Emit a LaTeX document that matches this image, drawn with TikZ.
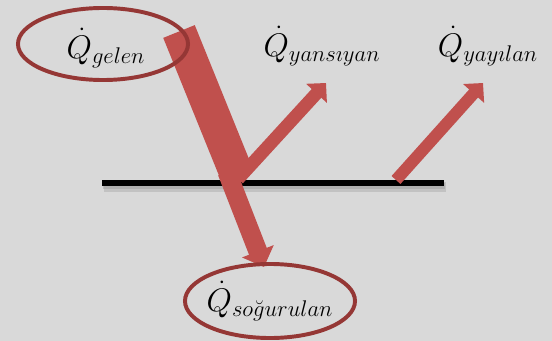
\documentclass[tikz,border=0pt]{standalone}
\usepackage{amsmath}
\usepackage{graphicx}
\usepackage{tikz}
\usepackage{xcolor}
\usetikzlibrary{arrows.meta, positioning, calc}
\definecolor{beamred}{HTML}{C0504D}
\definecolor{ringred}{HTML}{953735}
\definecolor{bggray}{HTML}{D9D9D9}
\newcommand{\qlabel}[1]{\scalebox{1.12}{$\dot{Q}_{#1}$}}

\begin{document}
\begin{tikzpicture}[
    x=0.025cm, y=-0.025cm,
    beam/.style={draw=beamred, line cap=butt},
    ring/.style={draw=ringred, line width=2.8pt},
    lbl/.style={inner sep=0pt, font=\huge}
]
    % Background and picture size
    \fill[bggray] (0,0) rectangle (552,341);
    \useasboundingbox (0,0) rectangle (552,341);

    % Surface with its shadow
    \coordinate (sL) at (102,183);
    \coordinate (sR) at (444,183);
    \draw[black!40, opacity=0.35, line width=7pt] ($(sL)+(2,4)$) -- ($(sR)+(2,4)$);
    \draw[black!40, opacity=0.45, line width=4pt] ($(sL)+(1,3)$) -- ($(sR)+(1,3)$);
    \draw[black, line width=4pt] (sL) -- (sR);

    % Beams
    \coordinate (inTop) at (179,31.5);
    \coordinate (inEnd) at (237.8,176.7);
    \coordinate (abStart) at (227,172);
    \coordinate (abTip) at (264,267);
    \coordinate (reStart) at (238,179);
    \coordinate (reTip) at (326,83);
    \coordinate (emStart) at (396,180);
    \coordinate (emTip) at (483,83);

    \draw[beam, line width=13.5pt, -{Triangle[length=12pt, width=23.5pt]}] (abStart) -- (abTip);
    \draw[beam, line width=24.2pt] (inTop) -- (inEnd);
    \draw[beam, line width=9.2pt, -{Triangle[length=10pt, width=19.5pt]}] (reStart) -- (reTip);
    \draw[beam, line width=8.5pt, -{Triangle[length=10pt, width=19.5pt]}] (emStart) -- (emTip);

    % Labels
    \node[lbl] (gelen) at (106,48) {\qlabel{gelen}};
    \node[lbl] (yansiyan) at (322,46) {\qlabel{yans\imath yan}};
    \node[lbl] (yayilan) at (488,46) {\qlabel{yay\imath lan}};
    \node[lbl] (sogurulan) at (270,301) {\qlabel{so\breve{g}urulan}};

    % Rings round incoming and absorbed
    \draw[ring] (103,44) ellipse [x radius=2.125cm, y radius=0.9cm];
    \draw[ring] (270,301) ellipse [x radius=2.125cm, y radius=0.925cm];
\end{tikzpicture}
\end{document}
